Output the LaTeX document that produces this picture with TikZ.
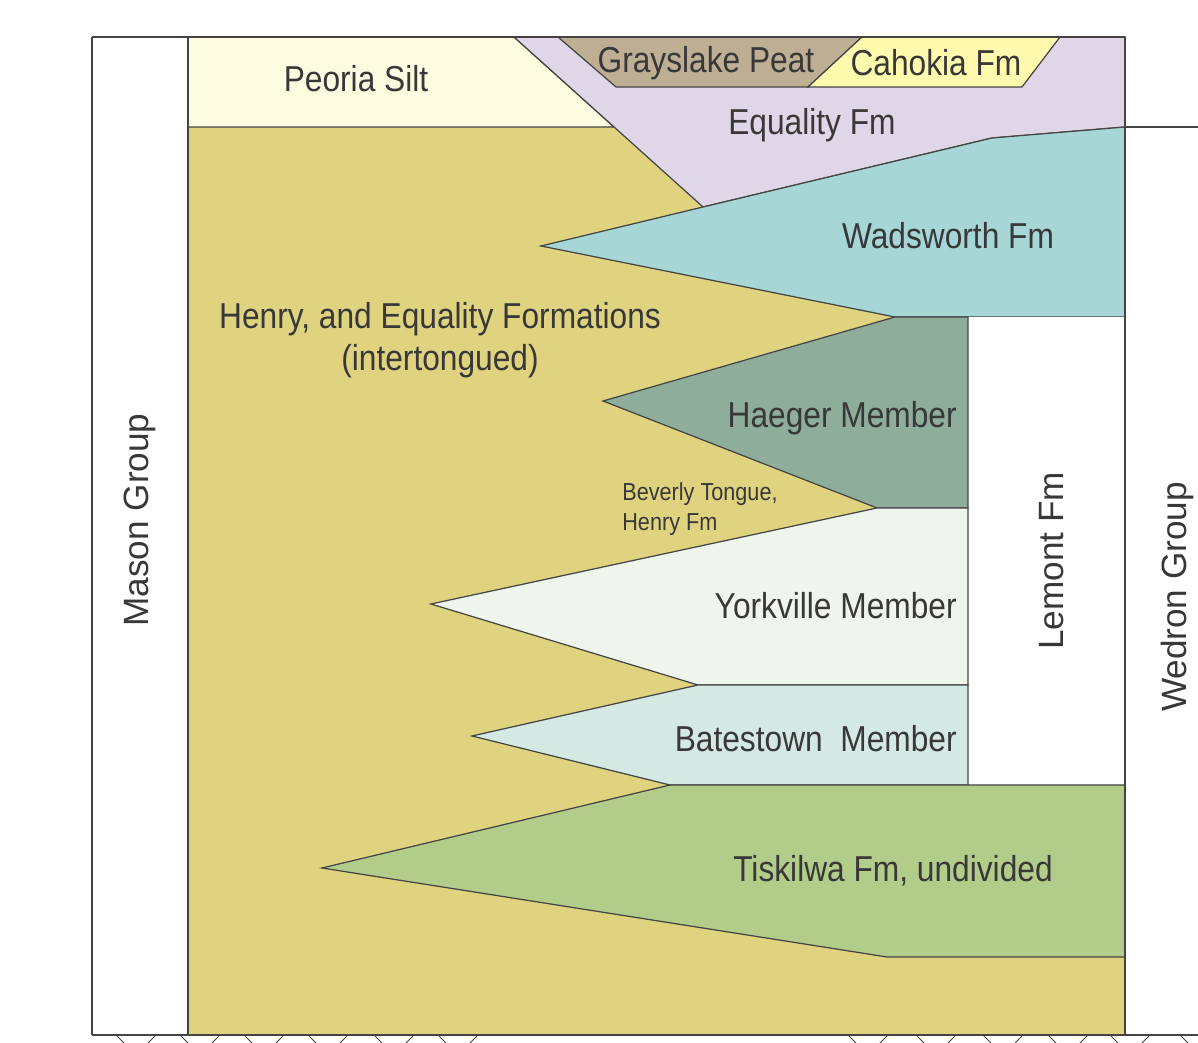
\documentclass[tikz,border=0pt]{standalone}
\usepackage{fontspec}
\setmainfont{Liberation Sans}[FakeStretch=0.88]
\newfontfamily\groupfont{Liberation Sans}
\definecolor{peoria}{HTML}{FEFCE0}
\definecolor{henry}{HTML}{E0D380}
\definecolor{equality}{HTML}{DFD6E8}
\definecolor{grayslake}{HTML}{BDAE94}
\definecolor{cahokia}{HTML}{FFFAAE}
\definecolor{wadsworth}{HTML}{A6D6D6}
\definecolor{haeger}{HTML}{8FAD9B}
\definecolor{yorkville}{HTML}{EEF5EC}
\definecolor{batestown}{HTML}{D5E9E4}
\definecolor{tiskilwa}{HTML}{B2CD8A}
\definecolor{linegrey}{HTML}{444444}
\definecolor{textgrey}{HTML}{383838}

\begin{document}
\begin{tikzpicture}[x=0.02cm,y=-0.02cm,
  unit/.style={draw=linegrey,line width=0.7pt,line join=miter},
  lab/.style={font=\fontsize{20.5}{24}\selectfont,text=textgrey,inner sep=0pt},
  grouplab/.style={font=\groupfont\fontsize{20}{24}\selectfont,text=textgrey,inner sep=0pt,rotate=90},
  smalllab/.style={font=\fontsize{14}{17}\selectfont,text=textgrey,inner sep=0pt,align=left}]

\useasboundingbox (0,0) rectangle (1198,1043);

% corner points of the units
\coordinate (wtip) at (541,246);
\coordinate (htip) at (603,401);
\coordinate (ytip) at (431,604);
\coordinate (btip) at (472,736);
\coordinate (ttip) at (322,868);

% background: Henry and Equality Formations
\fill[henry] (188,127) rectangle (1125,1035);

% Peoria Silt
\draw[unit,fill=peoria] (188,127) -- (188,37) -- (514,37) -- (614,127) -- cycle;

% Equality Fm
\draw[unit,fill=equality] (514,37) -- (1125,37) -- (1125,127) -- (992,138) -- (703,207) -- cycle;
\draw[unit,fill=grayslake] (558,37) -- (862,37) -- (808,87) -- (616,87) -- cycle;
\draw[unit,fill=cahokia] (862,37) -- (1060,37) -- (1022,87) -- (808,87) -- cycle;

% Wadsworth Fm
\draw[unit,fill=wadsworth] (wtip) -- (703,207) -- (992,138) -- (1125,127) -- (1125,317) -- (895,317) -- cycle;

% Lemont Fm column
\fill[white] (968,317) rectangle (1125,785);

% Haeger, Yorkville, Batestown Members
\draw[unit,fill=haeger] (htip) -- (895,317) -- (968,317) -- (968,508) -- (877,508) -- cycle;
\draw[unit,fill=yorkville] (ytip) -- (877,508) -- (968,508) -- (968,685) -- (698,685) -- cycle;
\draw[unit,fill=batestown] (btip) -- (698,685) -- (968,685) -- (968,785) -- (670,785) -- cycle;

% Tiskilwa Fm
\draw[unit,fill=tiskilwa] (ttip) -- (670,785) -- (1125,785) -- (1125,957) -- (887,957) -- cycle;

% frame
\draw[unit] (92,37) -- (1125,37);
\draw[unit] (92,37) -- (92,1035);
\draw[unit] (188,37) -- (188,1035);
\draw[unit] (1125,37) -- (1125,1035);
\draw[unit] (1125,127) -- (1198,127);
\draw[unit] (92,1035) -- (1198,1035);

% hatching below base
\foreach \x in {116,180,244,308,374,438,848,916,983,1048,1110,1180}
{
\draw[linegrey,line width=0.5pt] (\x,1035) -- (\x+8,1043);
\draw[linegrey,line width=0.5pt] (\x+40,1035) -- (\x+32,1043);
}

% labels
\node[lab] (peorialab) at (356,79) {Peoria Silt};
\node[lab] (grayslakelab) at (706,63) {Grayslake Peat};
\node[lab] (cahokialab) at (936,63) {Cahokia Fm};
\node[lab] (equalitylab) at (812,125) {Equality Fm};
\node[lab] (wadsworthlab) at (948,236) {Wadsworth Fm};
\node[lab,align=center] (henrylab) at (440,340) {Henry, and Equality Formations\\(intertongued)};
\node[lab,anchor=east] (haegerlab) at (957,418) {Haeger Member};
\node[smalllab,anchor=west] (beverlylab) at (622,509) {Beverly Tongue,\\Henry Fm};
\node[lab,anchor=east] (yorkvillelab) at (957,606) {Yorkville Member};
\node[lab,anchor=east] (batestownlab) at (957,739) {Batestown\ \ Member};
\node[lab] (tiskilwalab) at (893,871) {Tiskilwa Fm, undivided};
\node[grouplab] (lemontlab) at (1052,561) {Lemont Fm};
\node[grouplab] (wedronlab) at (1177,597) {Wedron Group};
\node[grouplab] (masonlab) at (140,520) {Mason Group};
\end{tikzpicture}
\end{document}
